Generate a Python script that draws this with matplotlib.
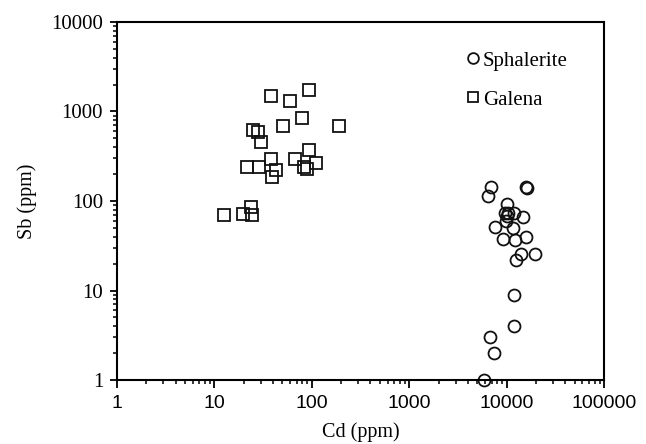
import matplotlib.pyplot as plt
import numpy as np

# Galena (squares): Cd vs Sb, ppm
galena_cd = [38, 60, 94, 79, 51, 190, 25, 28, 30, 94, 38, 67, 21.5, 29, 43, 39,
             84, 110, 90, 23.5, 12.5, 19.5, 24.5]
galena_sb = [1490, 1320, 1750, 846, 690, 690, 617, 590, 456, 371, 297, 297, 242,
             242, 222, 184, 240, 266, 230, 85, 69, 71, 69]

# Sphalerite (circles)
sphal_cd = [6870, 6490, 15900, 16200, 10100, 9630, 10400, 10100, 12000, 14700,
            9970, 7690, 11700, 9120, 12300, 16000, 14200, 12400, 19700, 11900,
            11900, 6760, 7340, 5820]
sphal_sb = [144, 114, 143, 140, 92.5, 72.8, 72.8, 68, 73.5, 65.8, 60.3, 50.6,
            49.9, 37.6, 36.7, 39.3, 25.6, 21.9, 25.6, 8.9, 4.0, 3.0, 2.0, 1.0]

serif = 'Liberation Serif'
sans = 'Liberation Sans'

fig = plt.figure(figsize=(6.46, 4.44), dpi=100)
ax = fig.add_axes([117 / 646, 1 - 380 / 444, 487 / 646, 358 / 444])

ms = 8.6
ax.plot(sphal_cd, sphal_sb, 'o', ms=ms, mfc='none', mec='#111111', mew=1.3,
        clip_on=False, label='Sphalerite')
ax.plot(galena_cd, galena_sb, 's', ms=ms, mfc='none', mec='#111111', mew=1.3,
        clip_on=False, label='Galena')

ax.set_xscale('log')
ax.set_yscale('log')
ax.set_xlim(1, 100000)
ax.set_ylim(1, 10000)

ax.set_xticks([1, 10, 100, 1000, 10000, 100000])
ax.set_xticklabels(['1', '10', '100', '1000', '10000', '100000'],
                   fontfamily=sans, fontsize=14)
ax.set_yticks([1, 10, 100, 1000, 10000])
ax.set_yticklabels(['1', '10', '100', '1000', '10000'],
                   fontfamily=serif, fontsize=15)

ax.tick_params(which='major', direction='out', length=5, width=1.3, pad=5)
ax.tick_params(which='minor', direction='out', length=3, width=1.1)
ax.tick_params(axis='x', which='major', length=6, pad=5)

for s in ax.spines.values():
    s.set_linewidth(1.5)

ax.set_xlabel('Cd (ppm)', fontfamily=serif, fontsize=14.5, labelpad=7)
ax.set_ylabel('Sb (ppm)', fontfamily=serif, fontsize=14.5, labelpad=10)

leg = ax.legend(loc='upper left', bbox_to_anchor=(0.719, 0.919), frameon=False,
                prop={'family': serif, 'size': 15}, handlelength=0.6,
                handletextpad=0.15, labelspacing=0.94, borderpad=0,
                borderaxespad=0, markerscale=0.9)

fig.savefig('out.png', dpi=100)
